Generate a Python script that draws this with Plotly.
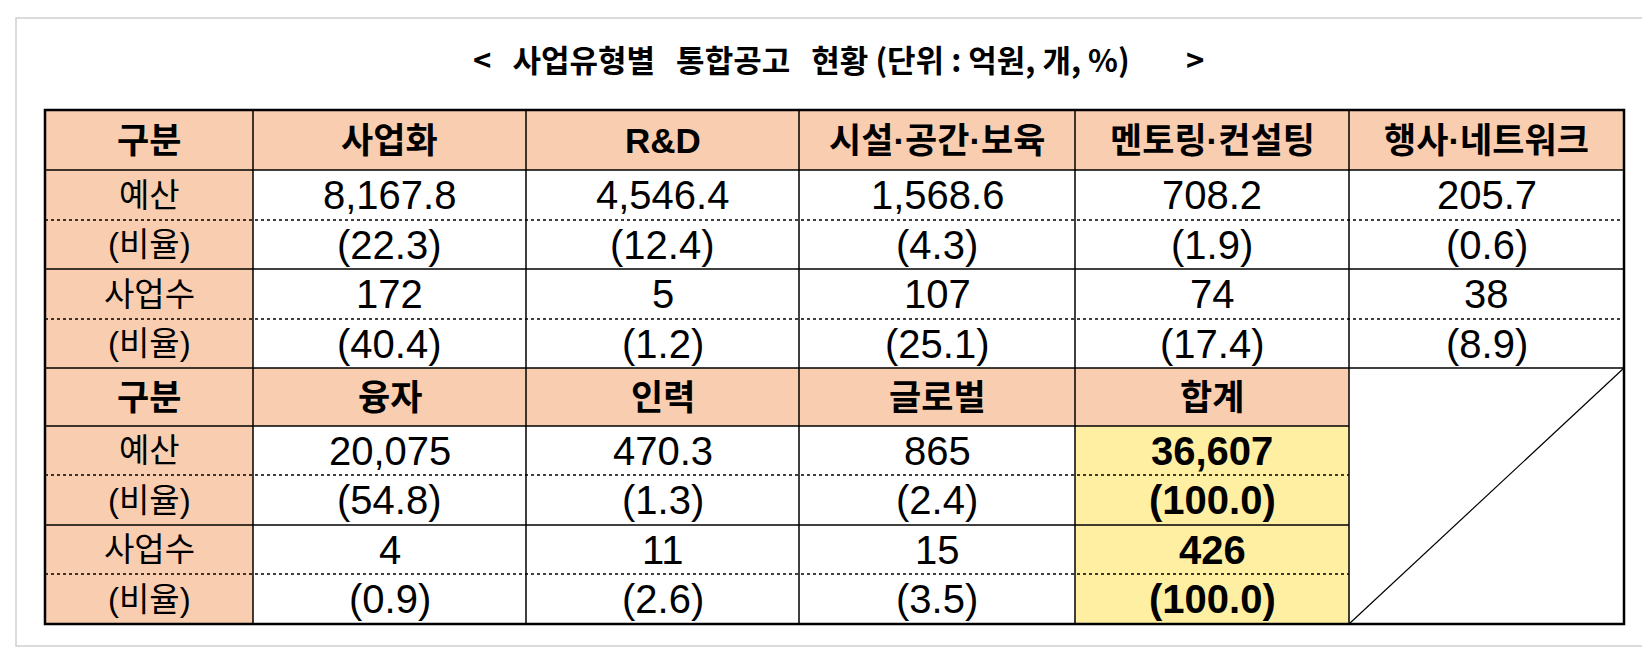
import plotly.graph_objects as go

# data
title_parts = ["<", "사업유형별", "통합공고", "현황 (단위 : 억원, 개, %)", ">"]
row_labels = ["예산", "(비율)", "사업수", "(비율)"]

top_types = ["사업화", "R&D", "시설·공간·보육", "멘토링·컨설팅", "행사·네트워크"]
top_budget = [8167.8, 4546.4, 1568.6, 708.2, 205.7]
top_budget_pct = [22.3, 12.4, 4.3, 1.9, 0.6]
top_count = [172, 5, 107, 74, 38]
top_count_pct = [40.4, 1.2, 25.1, 17.4, 8.9]

bot_types = ["융자", "인력", "글로벌", "합계"]
bot_budget = [20075, 470.3, 865, 36607]
bot_budget_pct = [54.8, 1.3, 2.4, 100.0]
bot_count = [4, 11, 15, 426]
bot_count_pct = [0.9, 2.6, 3.5, 100.0]

# geometry (pixels)
W, H = 1650, 648
col_x = [37, 245, 518, 791, 1067, 1341, 1616]
row_y = [102, 162, 212, 261, 311, 360, 418, 467, 517, 566, 616]

PEACH = "#F8CDB0"
YELLOW = "#FFEFA3"
NUM_FONT = "Liberation Sans Narrow, Liberation Sans, Noto Sans CJK KR"
KR_FONT = "Noto Sans CJK KR"


def fmt(v):
    return f"{v:,.1f}" if v % 1 else f"{v:,.0f}"


def pct(v):
    return f"({v:.1f})"


fig = go.Figure()
shapes = []
annos = []


def rect(x0, x1, y0, y1, color):
    shapes.append(dict(type="rect", x0=x0, x1=x1, y0=y0, y1=y1,
                       fillcolor=color, line=dict(width=0), layer="below"))


def line(x0, y0, x1, y1, w=1.5, dash="solid"):
    shapes.append(dict(type="line", x0=x0, y0=y0, x1=x1, y1=y1,
                       line=dict(color="black", width=w, dash=dash)))


def text(x, y, s, size=40, bold=False, family=NUM_FONT):
    annos.append(dict(x=x, y=y, text=f"<b>{s}</b>" if bold else s, showarrow=False,
                      font=dict(family=family, size=size, color="black"),
                      xanchor="center", yanchor="middle"))


# card
shapes.append(dict(type="rect", x0=8, x1=1638, y0=10, y1=638,
                   line=dict(color="#D0D0D0", width=1.5), fillcolor="white", layer="below"))

# fills
rect(col_x[0], col_x[1], row_y[0], row_y[10], PEACH)
rect(col_x[0], col_x[6], row_y[0], row_y[1], PEACH)
rect(col_x[0], col_x[5], row_y[5], row_y[6], PEACH)
rect(col_x[4], col_x[5], row_y[6], row_y[10], YELLOW)

# horizontal lines
for i, y in enumerate(row_y):
    if i in (0, 10):
        continue
    dotted = i in (2, 4, 7, 9)
    x_end = col_x[6] if i <= 5 else col_x[5]
    line(col_x[0], y, x_end, y, w=1.5, dash="dot" if dotted else "solid")
# vertical lines
for j, x in enumerate(col_x):
    if j in (0, 6):
        continue
    line(x, row_y[0], x, row_y[10])
# outer border
shapes.append(dict(type="rect", x0=col_x[0], x1=col_x[6], y0=row_y[0], y1=row_y[10],
                   line=dict(color="black", width=2.5)))
# diagonal in empty cell
line(col_x[5], row_y[10], col_x[6], row_y[5], w=1.2)

# title
gap = "&nbsp;" * 3
title = gap.join(title_parts[:4]) + "&nbsp;" * 8 + title_parts[4]
text(W / 2 + 5, 50, title, size=31, bold=True, family=KR_FONT)


def mid(a, b):
    return (a + b) / 2


def block(types, budget, bpct, count, cpct, r0, bold_last=False):
    text(mid(col_x[0], col_x[1]), mid(row_y[r0], row_y[r0 + 1]), "구분", size=35, bold=True)
    for k, lab in enumerate(row_labels):
        text(mid(col_x[0], col_x[1]), mid(row_y[r0 + 1 + k], row_y[r0 + 2 + k]), lab, size=33)
    for c, name in enumerate(types):
        cx = mid(col_x[c + 1], col_x[c + 2])
        text(cx, mid(row_y[r0], row_y[r0 + 1]), name, size=35, bold=True)
        b = bold_last and c == len(types) - 1
        vals = [fmt(budget[c]), pct(bpct[c]), fmt(count[c]), pct(cpct[c])]
        for k, s in enumerate(vals):
            text(cx, mid(row_y[r0 + 1 + k], row_y[r0 + 2 + k]), s, bold=b)


block(top_types, top_budget, top_budget_pct, top_count, top_count_pct, 0)
block(bot_types, bot_budget, bot_budget_pct, bot_count, bot_count_pct, 5, bold_last=True)

fig.update_layout(
    width=W, height=H, margin=dict(l=0, r=0, t=0, b=0),
    paper_bgcolor="white", plot_bgcolor="white",
    shapes=shapes, annotations=annos, showlegend=False,
    xaxis=dict(range=[0, W], visible=False, fixedrange=True),
    yaxis=dict(range=[H, 0], visible=False, fixedrange=True),
)
fig.write_html("out.html")
